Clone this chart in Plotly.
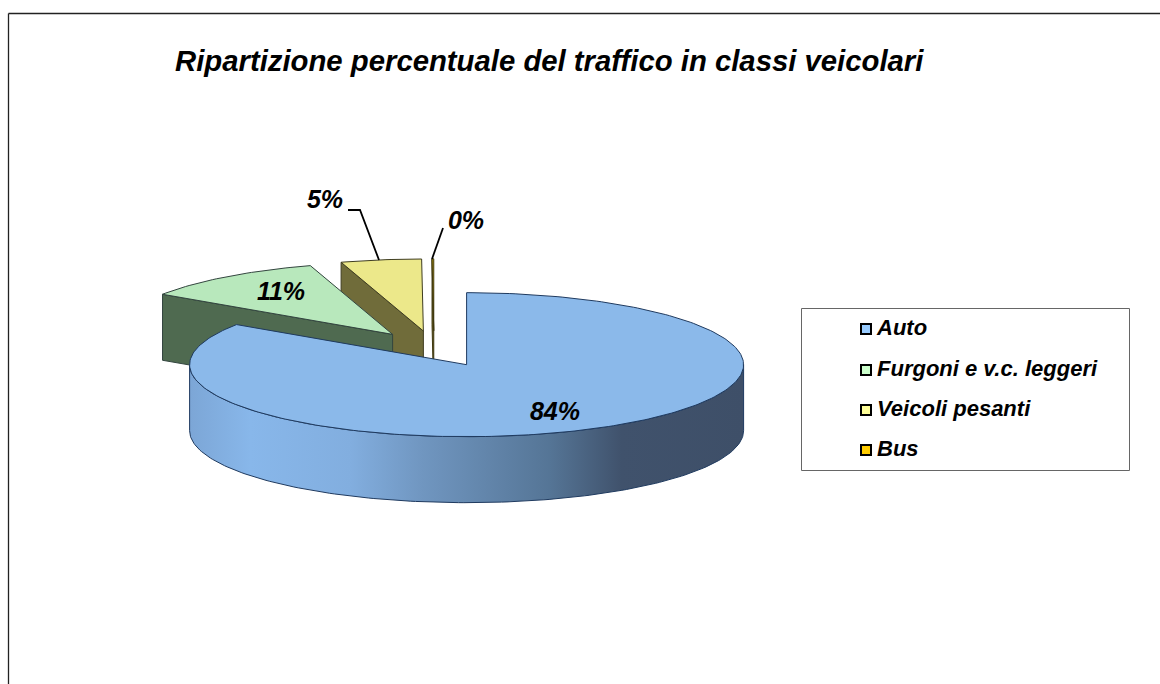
import numpy as np
import plotly.graph_objects as go

# ---- data -------------------------------------------------------------
categories = ["Auto", "Furgoni e v.c. leggeri", "Veicoli pesanti", "Bus"]
values = [84.4, 10.8, 4.7, 0.1]
labels = ["84%", "11%", "5%", "0%"]
title_text = "Ripartizione percentuale del traffico in classi veicolari"

# ---- style ------------------------------------------------------------
W, H = 1160, 684
CX, CY = 434, 348.8      # pixel position of the undisplaced pie centre
RX, RY = 277, 72         # pixel size of one pie radius on each axis
EXPLODE = 0.25           # in radii
DEPTH = 66 / RY          # in y units
top_colors = ["#8BB9EA", "#B8E8BC", "#ECE88A", "#C9A800"]
wall_colors = ["#5F7FA6", "#4F6A50", "#706C3A", "#5F5418"]
edge_colors = ["#1F3A5F", "#33453F", "#3F3D20", "#3F3810"]
legend_colors = ["#99CCFF", "#CCFFCC", "#FFFF99", "#FFCC00"]
FONT = "Liberation Sans, Arial, sans-serif"

fig = go.Figure()


def ring(a0, a1, dx, dy, n=160):
    t = np.linspace(a0, a1, max(2, int(n * abs(a1 - a0) / np.pi) + 2))
    return dx + np.sin(t), dy + np.cos(t)


def add_poly(x, y, color, line, width=1, gradient=None):
    kw = dict(fillgradient=gradient) if gradient else dict(fillcolor=color)
    fig.add_trace(go.Scatter(
        x=np.r_[x, x[0]], y=np.r_[y, y[0]], mode="lines", fill="toself",
        line=dict(color=line, width=width), hoverinfo="skip",
        showlegend=False, **kw))


fracs = np.array(values) / np.sum(values)
ends = np.cumsum(fracs) * 2 * np.pi
starts = ends - fracs * 2 * np.pi
gradient_stops = [
    [0.00, "#7CA6D6"], [0.11, "#88B7EA"], [0.29, "#82AEDF"], [0.42, "#7096C0"],
    [0.65, "#557596"], [0.78, "#40526C"], [1.00, "#3E4F68"],
]

# Painter's order: the last slice is the furthest back
for i in reversed(range(len(values))):
    s, e = starts[i], ends[i]
    mid = (s + e) / 2
    dx, dy = EXPLODE * np.sin(mid), EXPLODE * np.cos(mid)
    # radial walls that face the viewer
    if np.sin(s) < -1e-6:
        px, py = dx + np.sin(s), dy + np.cos(s)
        add_poly(np.array([px, dx, dx, px]),
                 np.array([py, dy, dy - DEPTH, py - DEPTH]), wall_colors[i], edge_colors[i])
    if np.sin(e) > 1e-6:
        px, py = dx + np.sin(e), dy + np.cos(e)
        add_poly(np.array([px, dx, dx, px]),
                 np.array([py, dy, dy - DEPTH, py - DEPTH]), wall_colors[i], edge_colors[i])
    # outer wall, front half only
    a0, a1 = max(s, np.pi / 2), min(e, 3 * np.pi / 2)
    if a1 > a0:
        ax, ay = ring(a0, a1, dx, dy)
        add_poly(np.r_[ax, ax[::-1]], np.r_[ay, ay[::-1] - DEPTH], wall_colors[i], edge_colors[i],
                 gradient=dict(type="horizontal", colorscale=gradient_stops))
    # top face
    ax, ay = ring(s, e, dx, dy)
    add_poly(np.r_[dx, ax], np.r_[dy, ay], top_colors[i], edge_colors[i])

# ---- overlay in page units: labels, leaders, legend --------------------
label_px = [(555, 414), (281, 294), (325, 202), (466, 223)]
fig.add_trace(go.Scatter(
    x=[p[0] for p in label_px], y=[p[1] for p in label_px], text=labels,
    mode="text", xaxis="x2", yaxis="y2", showlegend=False, hoverinfo="skip",
    textposition="middle center",
    textfont=dict(family=FONT, size=25, color="black", weight="bold", style="italic")))
for lx, ly in [((348, 360, 379), (210, 210, 260)), ((443, 432), (228, 259))]:
    fig.add_trace(go.Scatter(x=lx, y=ly, mode="lines", xaxis="x2", yaxis="y2",
                             line=dict(color="black", width=1.8), showlegend=False,
                             hoverinfo="skip"))
legend_y = [329, 370, 410, 450]
fig.add_trace(go.Scatter(
    x=[866] * 4, y=legend_y, mode="markers",
    xaxis="x2", yaxis="y2", showlegend=False, hoverinfo="skip",
    marker=dict(symbol="square", size=10, color=legend_colors,
                line=dict(color="black", width=2))))
fig.add_trace(go.Scatter(
    x=[877] * 4, y=legend_y, text=categories, mode="text",
    xaxis="x2", yaxis="y2", showlegend=False, hoverinfo="skip",
    textposition="middle right",
    textfont=dict(family=FONT, size=22, color="black", weight="bold", style="italic")))

hidden = dict(visible=False, fixedrange=True)
fig.update_layout(
    width=W, height=H, margin=dict(l=0, r=0, t=0, b=0, pad=0),
    paper_bgcolor="white", plot_bgcolor="white", showlegend=False,
    xaxis=dict(range=[-CX / RX, (W - CX) / RX], **hidden),
    yaxis=dict(range=[-(H - CY) / RY, CY / RY], **hidden),
    xaxis2=dict(range=[0, W], overlaying="x", **hidden),
    yaxis2=dict(range=[H, 0], overlaying="y", **hidden),
    shapes=[
        dict(type="line", xref="x2", yref="y2", x0=8.5, x1=W, y0=13.5, y1=13.5,
             line=dict(color="#222222", width=1.3)),
        dict(type="line", xref="x2", yref="y2", x0=8.5, x1=8.5, y0=13.5, y1=H,
             line=dict(color="#222222", width=1.3)),
        dict(type="rect", xref="x2", yref="y2", x0=801.5, x1=1129.5, y0=308.5, y1=470.5,
             line=dict(color="#666666", width=1), layer="below"),
    ],
    annotations=[dict(
        text=title_text, xref="x2", yref="y2", x=173, y=60, xanchor="left",
        yanchor="middle", showarrow=False,
        font=dict(family=FONT, size=29.3, color="black", weight="bold", style="italic"))],
)
fig.write_html("out.html", config=dict(displayModeBar=False),
               post_script="document.body.style.margin='0';document.body.style.overflow='hidden';")
